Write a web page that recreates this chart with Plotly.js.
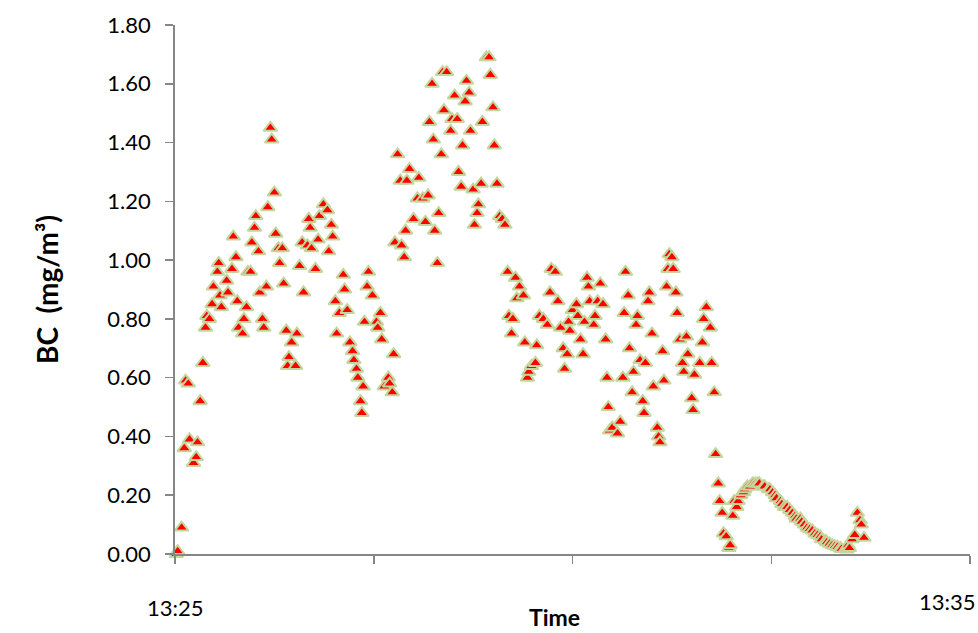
<!DOCTYPE html>
<html>
<head>
<meta charset="utf-8">
<script src="https://cdn.plot.ly/plotly-3.0.1.min.js"></script>
<style>html,body{margin:0;padding:0;background:#fff}#chart{width:978px;height:633px}</style>
</head>
<body>
<div id="chart"></div>
<script>
// Seconds after 13:25:00
const secs = [1,2,5,7,8,10,11,14,16,17,19,21,23,24,26,28,29,32,33,34,35,39,40,43,44,46,47,48,51,52,54,55,
57,58,60,61,63,64,66,67,69,70,72,73,75,76,78,79,81,82,84,85,86,88,91,92,94,
96,97,100,101,102,103,106,108,109,112,115,116,118,119,121,122,124,127,128,130,
132,134,135,137,138,140,141,142,143,145,146,149,152,153,155,156,158,161,162,164,165,
166,168,170,171,173,174,175,177,180,183,184,187,189,191,192,194,195,196,198,199,
201,202,203,205,208,209,211,213,214,216,217,219,220,222,223,225,226,228,229,231,232,235,237,238,240,241,243,245,247,249,
251,252,254,255,257,258,260,263,264,266,267,269,272,273,275,278,281,283,284,287,289,291,293,294,296,297,298,
300,303,304,306,308,309,311,312,313,316,317,319,321,323,325,326,327,328,330,334,336,
338,339,340,342,343,345,346,348,349,351,353,354,355,357,358,360,361,364,365,366,368,369,371,372,373,375,376,378,
379,381,383,384,386,387,390,391,392,396,398,399,401,404,405,407,408,
410,411,413,414,416,418,419,421,422,424,425,427,429,430,432,434,436,438,440,441,444,445,448,449,451,453,454,457,458,
460,462,464,466,468,469,472,473,475,477,479,481,483,485,487,488,491,492,494,496,498,500,502,503,506,507,
508,509,511,513,515,517,518,520];
// BC concentration (mg/m3)
const bc = [0.00,0.01,0.09,0.36,0.59,0.58,0.39,0.31,0.33,0.38,0.52,0.65,0.77,0.81,0.80,0.85,0.91,0.96,0.99,0.88,0.84,0.93,0.89,0.97,1.08,1.01,0.86,0.77,0.75,0.80,0.84,0.96,
0.96,1.06,1.11,1.15,1.03,0.89,0.80,0.77,0.91,1.18,1.45,1.41,1.23,1.09,1.04,0.99,1.04,0.92,0.76,0.64,0.67,0.72,0.64,0.75,0.98,
1.06,0.89,1.05,1.14,1.11,1.04,0.97,1.07,1.15,1.19,1.17,1.03,1.12,1.08,0.86,0.75,0.82,0.95,0.90,0.83,
0.72,0.69,0.66,0.63,0.60,0.52,0.48,0.57,0.79,0.91,0.96,0.88,0.79,0.77,0.82,0.73,0.57,0.60,0.58,0.55,0.68,
1.06,1.36,1.27,1.05,1.01,1.10,1.27,1.31,1.14,1.21,1.28,1.21,1.13,1.22,1.47,1.60,1.41,1.10,0.99,1.16,
1.36,1.64,1.51,1.64,1.44,1.48,1.56,1.48,1.30,1.25,1.39,1.54,1.61,1.57,1.44,1.24,1.12,1.16,1.19,1.26,1.47,1.69,1.69,1.63,1.52,1.39,1.26,1.15,1.14,1.12,
0.96,0.81,0.75,0.80,0.94,0.87,0.91,0.88,0.72,0.60,0.62,0.64,0.65,0.71,0.81,0.80,0.78,0.89,0.97,0.96,0.86,0.77,0.70,0.63,0.68,0.79,0.76,
0.83,0.85,0.81,0.73,0.68,0.79,0.94,0.91,0.86,0.78,0.81,0.86,0.92,0.85,0.73,0.60,0.50,0.42,0.43,0.41,0.45,
0.60,0.82,0.96,0.88,0.70,0.55,0.62,0.78,0.81,0.66,0.52,0.48,0.65,0.86,0.89,0.75,0.57,0.43,0.40,0.38,0.69,0.59,0.91,0.97,1.02,1.01,0.97,0.89,
0.82,0.73,0.65,0.62,0.74,0.68,0.53,0.49,0.61,0.65,0.72,0.80,0.84,0.77,0.65,0.55,0.34,
0.24,0.18,0.14,0.07,0.06,0.02,0.03,0.13,0.18,0.16,0.18,0.20,0.21,0.22,0.23,0.23,0.24,0.24,0.24,0.24,0.23,0.23,0.22,0.22,0.21,0.20,0.19,0.18,0.17,
0.16,0.16,0.15,0.14,0.13,0.12,0.12,0.11,0.10,0.09,0.085,0.08,0.07,0.065,0.06,0.05,0.045,0.04,0.035,0.03,0.027,0.024,0.02,0.017,0.017,0.015,
0.03,0.02,0.05,0.065,0.14,0.115,0.10,0.055];

const xTickVals = ["2000-01-01 13:25:00","2000-01-01 13:27:30","2000-01-01 13:30:00","2000-01-01 13:32:30","2000-01-01 13:35:00"];
const xLabels = ["13:25","13:35"];
const yTickVals = [0,0.2,0.4,0.6,0.8,1.0,1.2,1.4,1.6,1.8];

function pad(n){return (n<10?"0":"")+n;}
const times = secs.map(s => "2000-01-01 13:" + pad(25 + Math.floor(s/60)) + ":" + pad(s%60));

const FONT = "Lato, 'Open Sans', sans-serif";
const AXC = "#868686";

const trace = {
  x: times, y: bc, type: "scatter", mode: "markers", cliponaxis: false,
  marker: {symbol: "triangle-up", size: 12, color: "#ff0000", line: {color: "#c3d69b", width: 2}},
  hoverinfo: "x+y"
};

const layout = {
  width: 978, height: 633,
  margin: {l: 175, r: 8, t: 25, b: 79},
  paper_bgcolor: "#ffffff", plot_bgcolor: "#ffffff",
  showlegend: false,
  font: {family: FONT, color: "#000000", size: 22},
  xaxis: {
    type: "date", range: [xTickVals[0], xTickVals[4]], tickmode: "array", tickvals: xTickVals,
    showticklabels: false, ticks: "outside", ticklen: 8, tickwidth: 1.5, tickcolor: AXC,
    showline: true, linecolor: AXC, linewidth: 1.8, showgrid: false, zeroline: false,
    automargin: false
  },
  yaxis: {
    range: [0, 1.8], tickmode: "array", tickvals: yTickVals, tickformat: ".2f",
    ticks: "outside", ticklen: 8, tickwidth: 1.5, tickcolor: AXC, ticklabelstandoff: 10,
    tickfont: {family: FONT, size: 22, color: "#000"},
    showline: true, linecolor: AXC, linewidth: 1.8, showgrid: false, zeroline: false,
    automargin: false,
    title: {text: "<b>BC  (mg/m³)</b>", font: {family: FONT, size: 28, color: "#000"}, standoff: 40}
  },
  annotations: [
    {text: xLabels[0], xref: "paper", yref: "paper", x: 0, y: 0, xanchor: "center", yanchor: "middle", yshift: -53, showarrow: false, font: {family: FONT, size: 22, color: "#000"}},
    {text: xLabels[1], xref: "paper", yref: "paper", x: 1, y: 0, xanchor: "right", yanchor: "middle", xshift: 8, yshift: -47, showarrow: false, font: {family: FONT, size: 22, color: "#000"}},
    {text: "<b>Time</b>", xref: "paper", yref: "paper", x: 0.477, y: 0, xanchor: "center", yanchor: "middle", yshift: -63, showarrow: false, font: {family: FONT, size: 23, color: "#000"}}
  ]
};

Plotly.newPlot("chart", [trace], layout, {displayModeBar: false, staticPlot: true});
</script>
</body>
</html>
